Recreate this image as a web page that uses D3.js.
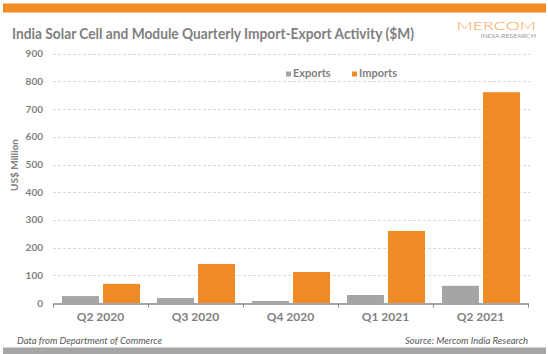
<!DOCTYPE html>
<html>
<head>
<meta charset="utf-8">
<script src="https://cdn.jsdelivr.net/npm/d3@7"></script>
<style>
  html, body { margin: 0; padding: 0; background: #fff; }
  svg { display: block; font-family: Lato, "Open Sans", sans-serif; }
</style>
</head>
<body>
<svg width="548" height="354"></svg>
<script>
"use strict";

// 데이터
const quarters = ["Q2 2020", "Q3 2020", "Q4 2020", "Q1 2021", "Q2 2021"];
const seriesNames = ["Exports", "Imports"];
const exportsVals = [25, 18, 7, 29, 62];
const importsVals = [69, 141, 112, 260, 761];
const yTicks = [0, 100, 200, 300, 400, 500, 600, 700, 800, 900];

const colors = { Exports: "#a5a5a5", Imports: "#f08a24" };
const textGray = "#808080";

const svg = d3.select("svg");

// 위/아래 장식 바
svg.append("rect").attr("x", 3).attr("y", 3.5).attr("width", 543).attr("height", 9).attr("fill", "#f08a24");
svg.append("rect").attr("x", 3).attr("y", 347.5).attr("width", 543).attr("height", 7).attr("fill", "#a6a6a6");

// 제목
svg.append("text")
  .attr("x", 12).attr("y", 38.5)
  .attr("font-size", 14.5).attr("font-weight", "bold")
  .attr("fill", textGray)
  .attr("textLength", 402).attr("lengthAdjust", "spacingAndGlyphs")
  .text("India Solar Cell and Module Quarterly Import-Export Activity ($M)");

// 로고
svg.append("text")
  .attr("x", 456.5).attr("y", 29.5)
  .attr("font-size", 11.5).attr("font-weight", 300)
  .attr("fill", "#f5a24a")
  .attr("textLength", 79.5).attr("lengthAdjust", "spacingAndGlyphs")
  .text("MERCOM");
svg.append("text")
  .attr("x", 480.5).attr("y", 38)
  .attr("font-size", 5.8)
  .attr("fill", "#9a9a9a")
  .attr("textLength", 55.5).attr("lengthAdjust", "spacingAndGlyphs")
  .text("INDIA RESEARCH");

// 스케일
const yScale = d3.scaleLinear().domain([0, 900]).range([303, 53.7]);
const x0 = d3.scaleBand().domain(quarters).range([53, 528]).padding(0);
const x1 = d3.scaleBand().domain(seriesNames).range([9, 87]).paddingInner(0.1);

// 그리드
svg.append("g")
  .selectAll("line")
  .data(yTicks.filter(d => d > 0))
  .enter()
  .append("line")
  .attr("x1", 53).attr("x2", 530)
  .attr("y1", d => Math.round(yScale(d)) + 0.5)
  .attr("y2", d => Math.round(yScale(d)) + 0.5)
  .attr("stroke", "#d9d9d9")
  .attr("stroke-dasharray", "3,2");

// y축 라벨
svg.append("g")
  .selectAll("text")
  .data(yTicks)
  .enter()
  .append("text")
  .attr("x", 43)
  .attr("y", d => yScale(d) + 3.5)
  .attr("text-anchor", "end")
  .attr("font-size", 10).attr("font-weight", "bold")
  .attr("fill", textGray)
  .text(d => d);

svg.append("text")
  .attr("transform", "translate(18,165) rotate(-90)")
  .attr("text-anchor", "middle")
  .attr("font-size", 10).attr("font-weight", "bold")
  .attr("fill", textGray)
  .text("US$ Million");

// 막대
const rows = quarters.map((q, i) => ({ q: q, Exports: exportsVals[i], Imports: importsVals[i] }));

const groups = svg.append("g")
  .selectAll("g")
  .data(rows)
  .enter()
  .append("g")
  .attr("transform", d => `translate(${x0(d.q)},0)`);

groups.selectAll("rect")
  .data(d => seriesNames.map(s => ({ s: s, v: d[s] })))
  .enter()
  .append("rect")
  .attr("x", d => x1(d.s))
  .attr("width", x1.bandwidth())
  .attr("y", d => yScale(d.v))
  .attr("height", d => yScale(0) - yScale(d.v))
  .attr("fill", d => colors[d.s]);

// x축
const xAxis = d3.axisBottom(x0).tickSize(0).tickPadding(9);
const xAxisG = svg.append("g")
  .attr("transform", "translate(0,303.5)")
  .call(xAxis);
xAxisG.select(".domain").attr("stroke", "#898989").attr("stroke-width", 1.5);
xAxisG.selectAll("text")
  .attr("font-size", 12).attr("font-weight", "bold")
  .attr("fill", textGray)
  .attr("font-family", "Lato, sans-serif");

// 구분 눈금
xAxisG.selectAll("line.sep")
  .data(d3.range(quarters.length + 1))
  .enter()
  .append("line")
  .attr("class", "sep")
  .attr("x1", i => 53 + i * x0.step() + 0.5)
  .attr("x2", i => 53 + i * x0.step() + 0.5)
  .attr("y1", 0).attr("y2", 4)
  .attr("stroke", "#898989");

// 범례
const legend = svg.append("g")
  .selectAll("g")
  .data(seriesNames)
  .enter()
  .append("g")
  .attr("transform", (d, i) => `translate(${[286, 352][i]},71.5)`);
legend.append("rect")
  .attr("width", 5).attr("height", 5)
  .attr("fill", d => colors[d]);
legend.append("text")
  .attr("x", 7).attr("y", 5.5)
  .attr("font-size", 11).attr("font-weight", "bold")
  .attr("fill", textGray)
  .text(d => d);

// 하단 주석
svg.append("text")
  .attr("x", 17).attr("y", 344)
  .attr("font-size", 9.5).attr("font-style", "italic")
  .attr("fill", "#595959")
  .text("Data from Department of Commerce");
svg.append("text")
  .attr("x", 528).attr("y", 344)
  .attr("text-anchor", "end")
  .attr("font-size", 9.5).attr("font-style", "italic")
  .attr("fill", "#595959")
  .text("Source: Mercom India Research");
</script>
</body>
</html>
